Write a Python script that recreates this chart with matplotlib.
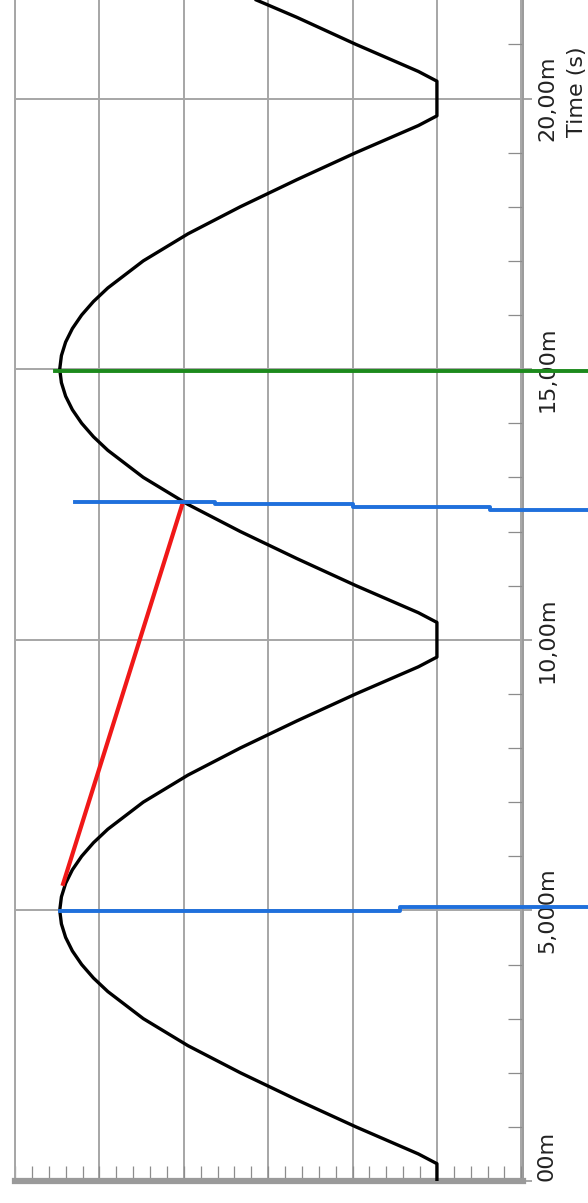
import numpy as np
import matplotlib.pyplot as plt
from matplotlib.ticker import MultipleLocator

# waveform: time (ms) vs level (grid divisions)
time_ms = [0.0, 0.32, 0.5, 1.0, 1.5, 2.0, 2.5, 3.0, 3.5, 3.75, 4.0, 4.25, 4.5, 4.75, 5.0,
           5.25, 5.5, 5.75, 6.0, 6.25, 6.5, 7.0, 7.5, 8.0, 8.5, 9.0, 9.5, 9.68,
           10.32, 10.5, 11.0, 11.5, 12.0, 12.5, 13.0, 13.5, 13.75, 14.0, 14.25, 14.5,
           14.75, 15.0, 15.25, 15.5, 15.75, 16.0, 16.25, 16.5, 17.0, 17.5, 18.0,
           18.5, 19.0, 19.5, 19.68, 20.32, 20.5, 21.0, 21.5, 21.82]
level = [0.0, 0.0, 0.22, 0.96, 1.66, 2.33, 2.95, 3.48, 3.90, 4.07, 4.21, 4.32, 4.40, 4.45, 4.47,
         4.45, 4.40, 4.32, 4.21, 4.07, 3.90, 3.48, 2.95, 2.33, 1.66, 0.96, 0.22, 0.0,
         0.0, 0.22, 0.96, 1.66, 2.33, 2.95, 3.48, 3.90, 4.07, 4.21, 4.32, 4.40,
         4.45, 4.47, 4.45, 4.40, 4.32, 4.21, 4.07, 3.90, 3.48, 2.95, 2.33,
         1.66, 0.96, 0.22, 0.0, 0.0, 0.22, 0.96, 1.66, 2.14]

# cursors (level, time)
cursor_a_lvl = [4.47, 0.44, -1.79]
cursor_a_t = [4.99, 5.06, 5.06]
cursor_b_lvl = [4.29, 2.63, 1.0, -0.63, -1.79]
cursor_b_t = [12.54, 12.51, 12.45, 12.40, 12.40]
cursor_c_lvl = [4.53, -1.79]
cursor_c_t = [14.97, 14.97]
slope_lvl = [4.43, 3.01]
slope_t = [5.49, 12.54]

time_ticks = [0, 5, 10, 15, 20]
time_labels = ['', '5,000m', '10,00m', '15,00m', '20,00m']
first_label = '00m'   # start label, cut short in the screenshot

fig = plt.figure(figsize=(5.88, 12.03), dpi=100)
ax = fig.add_axes([15 / 588, 22 / 1203, 508 / 588, 1181 / 1203])

ax.set_xlim(5.0, -1.02)
ax.set_ylim(0, 21.82)

grid_c = '#a6a6a6'
ax.xaxis.set_major_locator(MultipleLocator(1))
ax.xaxis.set_minor_locator(MultipleLocator(0.2))
ax.set_yticks(time_ticks)
ax.set_yticklabels(time_labels, rotation=90, va='center', fontsize=16, color='#222222')
ax.yaxis.set_minor_locator(MultipleLocator(1))
ax.yaxis.tick_right()
ax.grid(True, which='major', color=grid_c, lw=1.4)

ax.tick_params(axis='x', which='both', direction='in', length=11, width=0.9,
               color='#8c8c8c', labelbottom=False)
ax.tick_params(axis='y', which='minor', direction='in', length=11, width=0.9,
               color='#8c8c8c')
ax.tick_params(axis='y', which='major', direction='out', length=6.5, width=1.4,
               color=grid_c, pad=4)

ax.spines['top'].set_visible(False)
ax.spines['left'].set_color(grid_c)
ax.spines['left'].set_linewidth(1.4)
ax.spines['right'].set_color('#9a9a9a')
ax.spines['right'].set_linewidth(1.4)
ax.spines['bottom'].set_color('#9a9a9a')
ax.spines['bottom'].set_linewidth(4.5)

ax.plot(level, time_ms, color='black', lw=2.4, zorder=3)
ax.plot(slope_lvl, slope_t, color='#f01818', lw=3, zorder=4)
ax.plot(cursor_a_lvl, cursor_a_t, color='#1f70dc', lw=2.8, drawstyle='steps-post',
        clip_on=False, zorder=5)
ax.plot(cursor_b_lvl, cursor_b_t, color='#1f70dc', lw=2.8, drawstyle='steps-post',
        clip_on=False, zorder=5)
ax.plot(cursor_c_lvl, cursor_c_t, color='#1c8a1c', lw=2.8, clip_on=False, zorder=5)

ax.text(1.047, 0.47, first_label, transform=ax.get_yaxis_transform(), rotation=90,
        ha='center', va='center', fontsize=16, color='#222222')
ax.text(1.106, 20.12, 'Time (s)', transform=ax.get_yaxis_transform(), rotation=90,
        ha='center', va='center', fontsize=16, color='#222222')

fig.savefig('out.png', dpi=100)
